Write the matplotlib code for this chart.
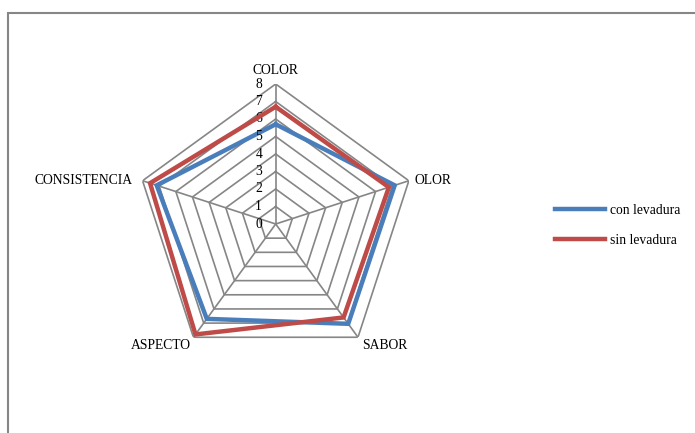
import numpy as np
import matplotlib.pyplot as plt
from matplotlib.patches import Rectangle

# radar chart data
categories = ['COLOR', 'OLOR', 'SABOR', 'ASPECTO', 'CONSISTENCIA']
con_levadura = [5.7, 7.15, 7.05, 6.7, 7.15]
sin_levadura = [6.7, 6.8, 6.6, 7.8, 7.55]
ring_ticks = [0, 1, 2, 3, 4, 5, 6, 7, 8]

plt.rcParams['font.family'] = ['Liberation Serif', 'DejaVu Serif']
plt.rcParams['font.size'] = 9.8

W, H = 695, 433
fig = plt.figure(figsize=(W / 100, H / 100), dpi=100)

# chart frame (clipped at right/bottom like the original)
fig.patches.append(Rectangle((8 / W, -0.1), 1.2, 1 - 13 / H + 0.1, transform=fig.transFigure,
                             fill=False, edgecolor='#868686', linewidth=1.5))

cx, cy, rad = 275.7, 224, 140
ax = fig.add_axes([(cx - rad) / W, 1 - (cy + rad) / H, 2 * rad / W, 2 * rad / H], projection='polar')
ax.set_theta_offset(np.pi / 2)
ax.set_theta_direction(-1)
ax.set_ylim(0, ring_ticks[-1])
ax.grid(False)
ax.spines['polar'].set_visible(False)
ax.set_xticks([])
ax.set_yticks([])
ax.patch.set_visible(False)

n = len(categories)
angles = np.linspace(0, 2 * np.pi, n, endpoint=False)
closed = np.append(angles, angles[0])

grid_col = '#868686'
for r in ring_ticks[1:]:
    ax.plot(closed, [r] * (n + 1), color=grid_col, lw=1.2, zorder=1)
for a in angles:
    ax.plot([a, a], [0, ring_ticks[-1]], color=grid_col, lw=1.2, zorder=1)

l1, = ax.plot(closed, con_levadura + con_levadura[:1], color='#4a7ebb', lw=3.2,
              solid_joinstyle='miter', zorder=3, label='con levadura')
l2, = ax.plot(closed, sin_levadura + sin_levadura[:1], color='#be4b48', lw=3.2,
              solid_joinstyle='miter', zorder=4, label='sin levadura')

# radial tick labels
for r in ring_ticks:
    ax.annotate(str(r), (0, r), xytext=(-17, 0), textcoords='offset pixels',
                ha='center', va='center')

# category labels
offsets = [(0, 14, 'center', 'center'), (6, 0, 'left', 'center'), (4, -8, 'left', 'center'),
           (-3, -8, 'right', 'center'), (-10, 0, 'right', 'center')]
for a, lab, (dx, dy, ha, va) in zip(angles, categories, offsets):
    ax.annotate(lab, (a, ring_ticks[-1]), xytext=(dx, dy), textcoords='offset pixels',
                ha=ha, va=va)

fig.legend(handles=[l1, l2], loc='center left', bbox_to_anchor=(555 / W, 1 - 225.5 / H),
           frameon=False, handlelength=3.7, handletextpad=0.35, labelspacing=1.25,
           borderpad=0, borderaxespad=0)

fig.savefig('out.png', dpi=100)
